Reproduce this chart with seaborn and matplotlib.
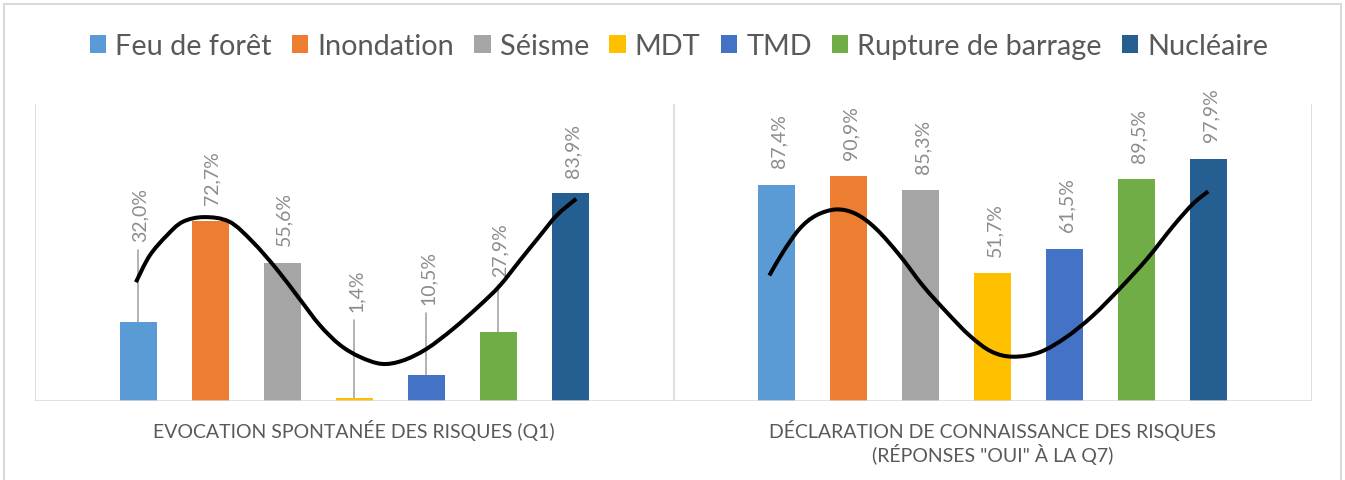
import numpy as np
import pandas as pd
import matplotlib
matplotlib.use('Agg')
import matplotlib.pyplot as plt
import seaborn as sns
from matplotlib.patches import Rectangle, PathPatch
from matplotlib.path import Path


# ─── Données ─────────────────────────────────────────────────────────────────

risques = ['Feu de forêt', 'Inondation', 'Séisme', 'MDT', 'TMD',
           'Rupture de barrage', 'Nucléaire']
groupes = ['EVOCATION SPONTANÉE DES RISQUES (Q1)',
           'DÉCLARATION DE CONNAISSANCE DES RISQUES\n(RÉPONSES "OUI" À LA Q7)']

evocation_q1 = [32.0, 72.7, 55.6, 1.4, 10.5, 27.9, 83.9]
connaissance_q7 = [87.4, 90.9, 85.3, 51.7, 61.5, 89.5, 97.9]

# courbes noires dessinées à main levée (position en rang de barre, valeur en %)
courbe_q1_rang = [-0.03, 0.16, 0.40, 0.62, 0.92, 1.27, 1.59, 1.92, 2.24, 2.52, 2.80,
                  3.08, 3.38, 3.67, 4.00, 4.37, 4.74, 5.02, 5.30, 5.58, 5.81, 6.08]
courbe_q1_pct = [48.0, 58.7, 66.9, 72.4, 74.3, 72.4, 64.3, 53.4, 41.3, 30.7, 22.7,
                 17.8, 15.0, 16.3, 21.0, 29.1, 38.6, 46.6, 56.8, 66.9, 75.0, 81.7]
courbe_q7_rang = [-0.10, 0.09, 0.32, 0.55, 0.83, 1.10, 1.38, 1.71, 2.03, 2.36, 2.68,
                  2.98, 3.28, 3.65, 4.02, 4.39, 4.76, 5.14, 5.51, 5.78, 5.99]
courbe_q7_pct = [50.7, 60.2, 69.6, 75.0, 77.4, 75.6, 69.6, 58.8, 46.6, 35.9, 26.4,
                 20.0, 17.9, 19.7, 25.8, 34.5, 45.3, 57.4, 70.9, 79.7, 84.7]

# ─── Style ───────────────────────────────────────────────────────────────────

couleurs = ['#5B9BD5', '#ED7D31', '#A5A5A5', '#FFC000', '#4472C4', '#70AD47', '#255E91']
gris_texte = '#595959'
gris_label = '#8C8C8C'
gris_ligne = '#D9D9D9'

# hauteur (en %) où démarre chaque étiquette du groupe Q1 (déplacées à la main)
pos_label_q1 = [64.8, 79.7, 63.1, 36.5, 39.2, 50.7, 90.6]

sns.set_theme(style='white')
plt.rcParams['font.family'] = ['Lato', 'DejaVu Sans']


def courbe_lissee(xs, ys):
    """Chemin de Bézier (Catmull-Rom) passant par les points relevés."""
    pts = np.column_stack([xs, ys])
    n = len(pts)
    verts = [pts[0]]
    codes = [Path.MOVETO]
    for i in range(n - 1):
        p0 = pts[max(i - 1, 0)]
        p1 = pts[i]
        p2 = pts[i + 1]
        p3 = pts[min(i + 2, n - 1)]
        verts += [p1 + (p2 - p0) / 6, p2 - (p3 - p1) / 6, p2]
        codes += [Path.CURVE4] * 3
    return Path(verts, codes)


df = pd.DataFrame({
    'groupe': [groupes[0]] * len(risques) + [groupes[1]] * len(risques),
    'risque': risques * 2,
    'valeur': evocation_q1 + connaissance_q7,
})

largeur = 0.79
pas = largeur / len(risques)

fig = plt.figure(figsize=(13.45, 4.81), dpi=100)
ax = fig.add_axes([35 / 1345, 1 - 402 / 481, (1312 - 35) / 1345, (402 - 105) / 481])

sns.barplot(data=df, x='groupe', y='valeur', hue='risque', palette=couleurs,
            saturation=1, width=largeur, gap=0.486, errorbar=None, linewidth=0,
            ax=ax, zorder=2)

ax.set_xlim(-0.5, 1.5)
ax.set_ylim(0, 120)

# séparateurs verticaux + ligne de base
for xv in (-0.5, 0.5, 1.5):
    ax.axvline(xv, color=gris_ligne, lw=1.2, zorder=0)
ax.axhline(0, color=gris_ligne, lw=1.8, zorder=3)

# ─── Étiquettes de données ───────────────────────────────────────────────────

for i, (v1, v7) in enumerate(zip(evocation_q1, connaissance_q7)):
    x1 = 0 + (i - 3) * pas
    x7 = 1 + (i - 3) * pas
    y_lab = pos_label_q1[i]
    if y_lab - v1 > 12:
        ax.plot([x1, x1], [v1, y_lab - 3.7], color='#A6A6A6', lw=1.2, zorder=1)
    ax.annotate(f'{v1:.1f}%'.replace('.', ','), xy=(x1, y_lab), xytext=(1.5, 0),
                textcoords='offset points', rotation=90, ha='center', va='bottom',
                color=gris_label, fontsize=14)
    ax.annotate(f'{v7:.1f}%'.replace('.', ','), xy=(x7, v7), xytext=(1.5, 12.5),
                textcoords='offset points', rotation=90, ha='center', va='bottom',
                color=gris_label, fontsize=14)

# ─── Courbes ─────────────────────────────────────────────────────────────────

for g, rang, pct in ((0, courbe_q1_rang, courbe_q1_pct), (1, courbe_q7_rang, courbe_q7_pct)):
    xs = [g + (r - 3) * pas for r in rang]
    ax.add_patch(PathPatch(courbe_lissee(xs, pct), fill=False, edgecolor='black',
                           lw=2.9, capstyle='butt', zorder=4))

# ─── Axes ────────────────────────────────────────────────────────────────────

for s in ax.spines.values():
    s.set_visible(False)
ax.set_yticks([])
ax.set_xlabel('')
ax.set_ylabel('')
ax.set_xticks([0, 1])
ax.set_xticklabels(groupes, color=gris_texte, fontsize=14, linespacing=1.15)
ax.tick_params(axis='x', length=0, pad=13)

# légende
leg = ax.get_legend()
handles = leg.legend_handles
labels = [t.get_text() for t in leg.get_texts()]
leg.remove()
fig.legend(handles, labels, loc='center', bbox_to_anchor=(0.505, 0.902),
           ncol=7, frameon=False, fontsize=20.8, labelcolor=gris_texte,
           handlelength=0.56, handleheight=0.56, handletextpad=0.32,
           columnspacing=0.7)

# cadre du graphique
fig.patches.append(Rectangle((4 / 1345, -0.02), 1337 / 1345, 1.02 - 5 / 481,
                             transform=fig.transFigure, fill=False,
                             edgecolor=gris_ligne, lw=1.5))

fig.savefig('out.png', dpi=100)
